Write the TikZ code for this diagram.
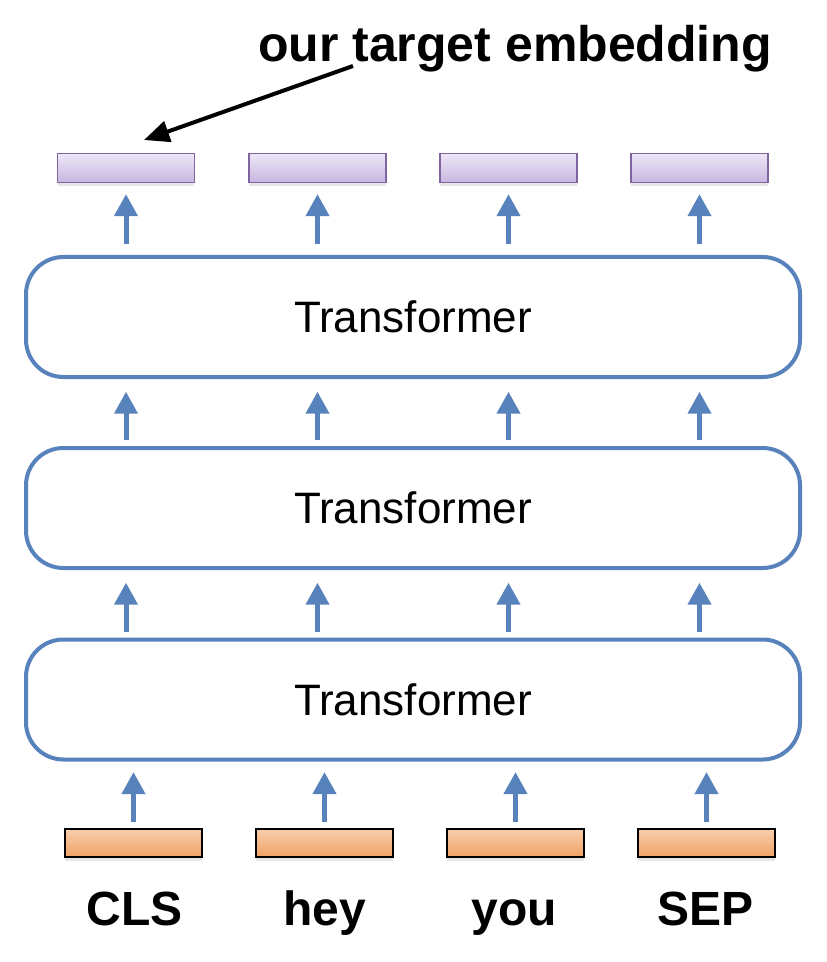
\documentclass[tikz,border=0pt]{standalone}
\usepackage{fontspec}
\setmainfont{Liberation Sans}
\usetikzlibrary{arrows.meta,shadows}

\definecolor{layerblue}{RGB}{88,130,188}
\definecolor{embedline}{RGB}{128,100,162}
\definecolor{embedtop}{RGB}{236,230,246}
\definecolor{embedbot}{RGB}{200,183,224}
\definecolor{tokentop}{RGB}{248,206,172}
\definecolor{tokenbot}{RGB}{240,162,100}

\tikzset{
  layer/.style={draw=layerblue, line width=3pt, rounded corners=28pt, minimum width=580.5pt, minimum height=90pt, inner sep=0pt, font=\fontsize{33}{36}\selectfont},
  embed/.style={draw=embedline, line width=1.2pt, top color=embedtop, bottom color=embedbot, minimum width=102.5pt, minimum height=21.5pt, inner sep=0pt, drop shadow={shadow xshift=0pt, shadow yshift=-2.5pt, opacity=0.2}},
  token/.style={draw=black, line width=1.5pt, top color=tokentop, bottom color=tokenbot, minimum width=102.5pt, minimum height=21.5pt, inner sep=0pt, drop shadow={shadow xshift=0pt, shadow yshift=-2.5pt, opacity=0.2}},
  word/.style={anchor=base, inner sep=0pt, font=\bfseries\fontsize{36}{40}\selectfont},
  up/.style={draw=layerblue, line width=3.75pt, -{Triangle[width=17pt,length=16.5pt]}},
  pointer/.style={draw=black, line width=3pt, -{Triangle[width=16pt,length=19pt]}}
}

\begin{document}
\begin{tikzpicture}[x=0.75pt,y=0.75pt,yscale=-1,xscale=1]
        \useasboundingbox (0,0) rectangle (826,962);

        % Transformer layers
        \node [layer] (t1) at (413,317) {Transformer};
        \node [layer] (t2) at (413,508) {Transformer};
        \node [layer] (t3) at (413,699.5) {Transformer};

        % Output embeddings
        \node [embed] (e1) at (126,168) {};
        \node [embed] (e2) at (317.5,168) {};
        \node [embed] (e3) at (508.5,168) {};
        \node [embed] (e4) at (699.5,168) {};

        % Input tokens
        \node [token] (k1) at (133.5,843) {};
        \node [token] (k2) at (324.5,843) {};
        \node [token] (k3) at (515.5,843) {};
        \node [token] (k4) at (706.5,843) {};

        % Text Node
        \node [word] (cls) at (134.5,925) {CLS};
        % Text Node
        \node [word] (hey) at (325,925) {hey};
        % Text Node
        \node [word] (you) at (514.5,925) {you};
        % Text Node
        \node [word] (sep) at (705.5,925) {SEP};
        % Text Node
        \node [word, font=\bfseries\fontsize{37.5}{42}\selectfont] (target) at (515,62) {our target embedding};

        % tokens into the first layer
        \draw [up, shorten <=4.5pt, shorten >=7.9pt] (k1) -- (k1 |- t3.south);
        \draw [up, shorten <=4.5pt, shorten >=7.9pt] (k2) -- (k2 |- t3.south);
        \draw [up, shorten <=4.5pt, shorten >=7.9pt] (k3) -- (k3 |- t3.south);
        \draw [up, shorten <=4.5pt, shorten >=7.9pt] (k4) -- (k4 |- t3.south);
        % layer to layer
        \draw [up, shorten <=4.5pt, shorten >=9.5pt] (t3.north -| e1) -- (t2.south -| e1);
        \draw [up, shorten <=4.5pt, shorten >=9.5pt] (t3.north -| e2) -- (t2.south -| e2);
        \draw [up, shorten <=4.5pt, shorten >=9.5pt] (t3.north -| e3) -- (t2.south -| e3);
        \draw [up, shorten <=4.5pt, shorten >=9.5pt] (t3.north -| e4) -- (t2.south -| e4);
        \draw [up, shorten <=4.5pt, shorten >=9.5pt] (t2.north -| e1) -- (t1.south -| e1);
        \draw [up, shorten <=4.5pt, shorten >=9.5pt] (t2.north -| e2) -- (t1.south -| e2);
        \draw [up, shorten <=4.5pt, shorten >=9.5pt] (t2.north -| e3) -- (t1.south -| e3);
        \draw [up, shorten <=4.5pt, shorten >=9.5pt] (t2.north -| e4) -- (t1.south -| e4);
        % last layer to embeddings
        \draw [up, shorten <=8.4pt, shorten >=8.25pt] (t1.north -| e1) -- (e1);
        \draw [up, shorten <=8.4pt, shorten >=8.25pt] (t1.north -| e2) -- (e2);
        \draw [up, shorten <=8.4pt, shorten >=8.25pt] (t1.north -| e3) -- (e3);
        \draw [up, shorten <=8.4pt, shorten >=8.25pt] (t1.north -| e4) -- (e4);

        % pointer to the CLS embedding
        \coordinate (tail) at (353,66);
        \coordinate (tip) at (144,140);
        \draw [pointer] (tail) -- (tip);

\end{tikzpicture}
\end{document}
